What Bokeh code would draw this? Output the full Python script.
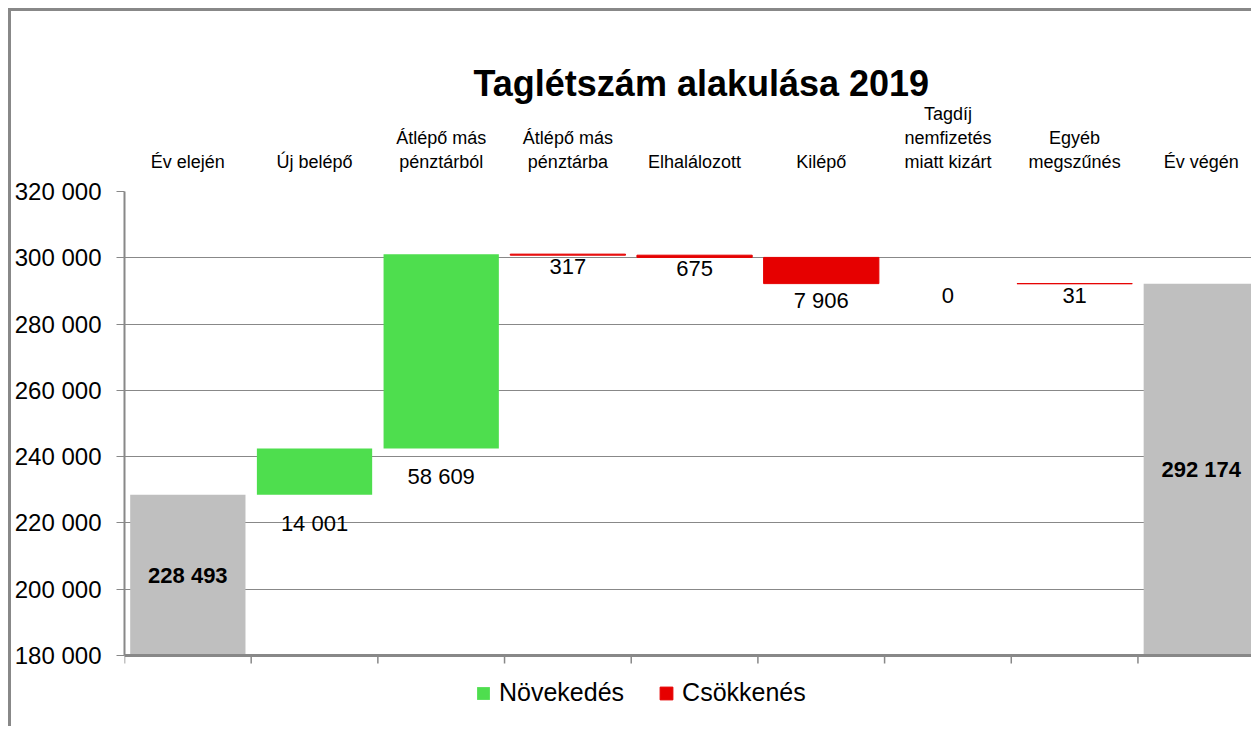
from bokeh.plotting import figure
from bokeh.models import (Range1d, FixedTicker, ColumnDataSource,
                          Legend, LegendItem, Title, Span)
from bokeh.embed import file_html
from bokeh.resources import INLINE
from bokeh.core.properties import value

# ---------------- data ----------------
categories = ["Év elején", "Új belépő", "Átlépő más\npénztárból",
              "Átlépő más\npénztárba", "Elhalálozott", "Kilépő",
              "Tagdíj\nnemfizetés\nmiatt kizárt", "Egyéb\nmegszűnés", "Év végén"]
start_value = 228493
increases = [14001, 58609]              # Új belépő, Átlépő más pénztárból
decreases = [317, 675, 7906, 0, 31]     # Átlépő más pénztárba ... Egyéb megszűnés
end_value = 292174
y_ticks = [180000, 200000, 220000, 240000, 260000, 280000, 300000, 320000]
legend_labels = ["Növekedés", "Csökkenés"]
title_text = "Taglétszám alakulása 2019"

FONT_NAME = "Liberation Sans"
FONT = value(FONT_NAME)
GRAY = "#888888"


def fmt(v):
    return f"{v:,}".replace(",", " ")


y_min, y_max = y_ticks[0], y_ticks[-1]

# layout (pixels)
AXIS_PX = 464          # height of the value axis
EXTRA_PX = 60          # room under the axis for the legend
units_per_px = (y_max - y_min) / AXIS_PX
y_lo = y_min - EXTRA_PX * units_per_px
tick_len = 8 * units_per_px

# ---------------- waterfall geometry ----------------
running = start_value
inc_x, inc_bottom, inc_top, inc_lbl = [], [], [], []
dec_x, dec_bottom, dec_top, dec_lbl, dec_line = [], [], [], [], []
idx = 1
for v in increases:
    inc_x.append(idx); inc_bottom.append(running); inc_top.append(running + v)
    inc_lbl.append(fmt(v)); running += v; idx += 1
for v in decreases:
    dec_x.append(idx); dec_top.append(running); dec_bottom.append(running - v)
    dec_lbl.append(fmt(v)); dec_line.append("#e60000" if v else None)
    running -= v; idx += 1

tot_src = ColumnDataSource(dict(
    x=[0, len(categories) - 1], top=[start_value, end_value],
    mid=[(y_min + start_value) / 2, (y_min + end_value) / 2],
    lbl=[fmt(start_value), fmt(end_value)]))
inc_src = ColumnDataSource(dict(x=inc_x, bottom=inc_bottom, top=inc_top, lbl=inc_lbl))
dec_src = ColumnDataSource(dict(x=dec_x, bottom=dec_bottom, top=dec_top, lbl=dec_lbl,
                                lc=dec_line))
bounds = [i - 0.5 for i in range(len(categories) + 1)]
tick_src = ColumnDataSource(dict(x=bounds, y0=[y_min] * len(bounds),
                                 y1=[y_min - tick_len] * len(bounds)))

# ---------------- figure ----------------
p = figure(width=1243, height=718, x_range=Range1d(-0.5, 8.42),
           y_range=Range1d(y_lo, y_max), x_axis_location="above",
           output_backend="svg", toolbar_location=None,
           min_border_left=113, min_border_right=0, min_border_top=180,
           min_border_bottom=14)
p.styles = {"border-left": "3px solid #888888", "border-top": "3px solid #888888",
            "margin-left": "8px", "margin-top": "8px"}
p.outline_line_color = None
p.background_fill_color = "white"
p.border_fill_color = "white"

p.title = Title(text=title_text, align="left", text_font=FONT_NAME,
                text_font_size="36px", text_font_style="bold", offset=349,
                standoff=-7, text_color="black")

# top category axis
top_ax = p.xaxis[0]
top_ax.ticker = FixedTicker(ticks=list(range(len(categories))))
top_ax.major_label_overrides = {i: c for i, c in enumerate(categories)}
top_ax.axis_line_color = None
top_ax.major_tick_line_color = None
top_ax.minor_tick_line_color = None
top_ax.major_label_standoff = 14
top_ax.major_label_text_font = FONT_NAME
top_ax.major_label_text_font_size = "18px"
top_ax.major_label_text_color = "black"

# y axis
yax = p.yaxis[0]
yax.ticker = FixedTicker(ticks=y_ticks)
yax.bounds = (y_min, y_max)
yax.major_label_overrides = {t: fmt(t) for t in y_ticks}
yax.major_label_text_font = FONT_NAME
yax.major_label_text_font_size = "24px"
yax.major_label_text_color = "black"
yax.major_tick_out = 8
yax.major_tick_in = 0
yax.minor_tick_line_color = None
yax.axis_line_color = GRAY
yax.axis_line_width = 2
yax.major_tick_line_color = GRAY
yax.major_label_standoff = 15

p.xgrid.visible = False
p.ygrid.ticker = FixedTicker(ticks=y_ticks)
p.ygrid.grid_line_color = GRAY
p.ygrid.grid_line_width = 1

W = 0.91
p.vbar(x="x", bottom=y_min, top="top", width=W, source=tot_src,
       fill_color="#bfbfbf", line_color=None)
g = p.vbar(x="x", bottom="bottom", top="top", width=W, source=inc_src,
           fill_color="#4ede4e", line_color=None)
r = p.vbar(x="x", bottom="bottom", top="top", width=W, source=dec_src,
           fill_color="#e60000", line_color="lc", line_width=1)

# category axis line at the bottom of the value axis, with boundary ticks
p.add_layout(Span(location=y_min, dimension="width", line_color=GRAY, line_width=3))
p.segment(x0="x", y0="y0", x1="x", y1="y1", source=tick_src,
          line_color=GRAY, line_width=1.5)

p.text(x="x", y="mid", text="lbl", source=tot_src, text_align="center",
       text_baseline="middle", text_font=FONT, text_font_size="22px",
       text_font_style="bold", text_color="black")
p.text(x="x", y="bottom", text="lbl", source=inc_src, text_align="center",
       text_baseline="top", y_offset=16, text_font=FONT, text_font_size="22px",
       text_color="black")
p.text(x="x", y="bottom", text="lbl", source=dec_src, text_align="center",
       text_baseline="top", y_offset=4, text_font=FONT, text_font_size="22px",
       text_color="black")

legend = Legend(items=[LegendItem(label=legend_labels[0], renderers=[g]),
                       LegendItem(label=legend_labels[1], renderers=[r])],
                orientation="horizontal", location=(351, 8),
                border_line_color=None, background_fill_alpha=0,
                label_text_font=FONT_NAME, label_text_font_size="25px",
                label_text_color="black",
                glyph_width=16, glyph_height=16, spacing=34, label_standoff=8,
                padding=0, margin=0)
p.add_layout(legend)

open("out.html", "w").write(file_html(p, INLINE))
